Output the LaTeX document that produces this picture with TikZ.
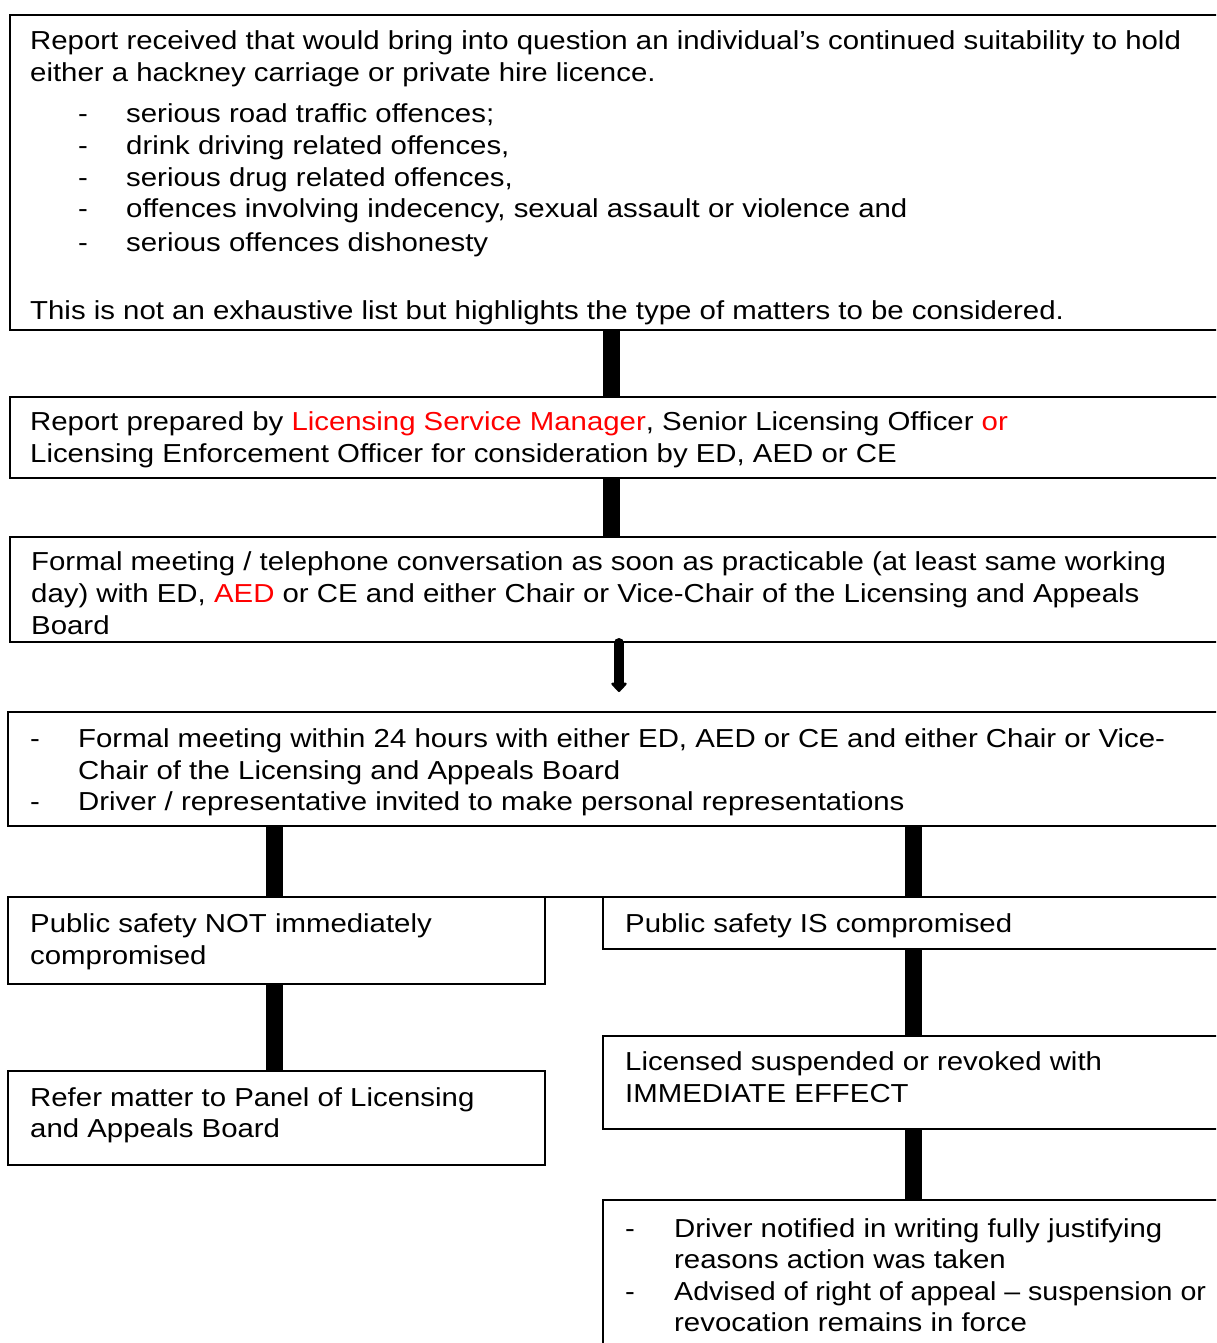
\documentclass[tikz,border=0pt]{standalone}
\usepackage{fontspec}
\setmainfont{Liberation Sans}[FakeStretch=1.13]
\usetikzlibrary{arrows.meta}
\definecolor{txtred}{RGB}{255,0,0}
\tikzset{
  box/.style={draw=black, line width=2.2pt, anchor=north west, inner sep=0pt, outer sep=0pt, fill=white},
  txt/.style={anchor=base west, inner sep=0pt, font=\fontsize{26}{32}\selectfont, text=black},
  bar/.style={line width=17pt, line cap=butt, draw=black},
  joinline/.style={line width=2.2pt, draw=black},
  downarrow/.style={line width=10pt, line cap=round, draw=black,
     -{Triangle[width=18pt,length=10pt,round]}}
}
\begin{document}
\begin{tikzpicture}[x=1pt,y=-1pt]
\useasboundingbox (0,0) rectangle (1216,1343);
\clip (0,0) rectangle (1216,1343);
% boxes
\node[box, minimum width=1240pt, minimum height=315pt] (b1) at (10,15) {};
\node[box, minimum width=1240pt, minimum height=81pt] (b2) at (10,397) {};
\node[box, minimum width=1240pt, minimum height=105pt] (b3) at (10,537) {};
\node[box, minimum width=1240pt, minimum height=114pt] (b4) at (8,712) {};
\node[box, minimum width=537pt, minimum height=87pt] (b5l) at (8,897) {};
\node[box, minimum width=640pt, minimum height=52pt] (b5r) at (603,897) {};
\node[box, minimum width=537pt, minimum height=94pt] (b6l) at (8,1071) {};
\node[box, minimum width=640pt, minimum height=93pt] (b6r) at (603,1036) {};
\node[box, minimum width=640pt, minimum height=200pt] (b7) at (603,1200) {};
% bar x positions
\coordinate (xmid) at (611.5,0);
\coordinate (xarr) at (619,0);
\coordinate (xleft) at (274,0);
\coordinate (xright) at (913,0);
\coordinate (aend) at (619,692);
% connectors
\draw[bar] (b1.south -| xmid) -- (b2.north -| xmid);
\draw[bar] (b2.south -| xmid) -- (b3.north -| xmid);
\draw[downarrow] ([yshift=-1pt]b3.south -| xarr) -- (aend);
\draw[bar] (b4.south -| xleft) -- (b5l.north -| xleft);
\draw[bar] (b4.south -| xright) -- (b5r.north -| xright);
\draw[joinline] (b5l.north east) -- (b5r.north west);
\draw[bar] (b5l.south -| xleft) -- (b6l.north -| xleft);
\draw[bar] (b5r.south -| xright) -- (b6r.north -| xright);
\draw[bar] (b6r.south -| xright) -- (b7.north -| xright);
% box 1 text
\node[txt] (t1a) at (30,50) {Report received that would bring into question an individual’s continued suitability to hold};
\node[txt] (t1b) at (30,82) {either a hackney carriage or private hire licence.};
\node[txt] (d1) at (78,123) {-};
\node[txt] (t1c) at (126,123) {serious road traffic offences;};
\node[txt] (d2) at (78,155) {-};
\node[txt] (t1d) at (126,155) {drink driving related offences,};
\node[txt] (d3) at (78,187) {-};
\node[txt] (t1e) at (126,187) {serious drug related offences,};
\node[txt] (d4) at (78,218) {-};
\node[txt] (t1f) at (126,218) {offences involving indecency, sexual assault or violence and};
\node[txt] (d5) at (78,251) {-};
\node[txt] (t1g) at (126,251) {serious offences dishonesty};
\node[txt] (t1h) at (30,319) {This is not an exhaustive list but highlights the type of matters to be considered.};
% box 2 text
\node[txt] (t2a) at (30,430) {Report prepared by \textcolor{txtred}{Licensing Service Manager}, Senior Licensing Officer \textcolor{txtred}{or}};
\node[txt] (t2b) at (30,462) {Licensing Enforcement Officer for consideration by ED, AED or CE};
% box 3 text
\node[txt] (t3a) at (31,570) {Formal meeting / telephone conversation as soon as practicable (at least same working};
\node[txt] (t3b) at (31,602) {day) with ED, \textcolor{txtred}{AED} or CE and either Chair or Vice-Chair of the Licensing and Appeals};
\node[txt] (t3c) at (31,634) {Board};
% box 4 text
\node[txt] (d6) at (30,747) {-};
\node[txt] (t4a) at (78,747) {Formal meeting within 24 hours with either ED, AED or CE and either Chair or Vice-};
\node[txt] (t4b) at (78,779) {Chair of the Licensing and Appeals Board};
\node[txt] (d7) at (30,810) {-};
\node[txt] (t4c) at (78,810) {Driver / representative invited to make personal representations};
% box 5 text
\node[txt] (t5a) at (30,932) {Public safety NOT immediately};
\node[txt] (t5b) at (30,964) {compromised};
\node[txt] (t5c) at (625,932) {Public safety IS compromised};
% box 6 text
\node[txt] (t6a) at (30,1106) {Refer matter to Panel of Licensing};
\node[txt] (t6b) at (30,1137) {and Appeals Board};
\node[txt] (t6c) at (625,1070) {Licensed suspended or revoked with};
\node[txt] (t6d) at (625,1102) {IMMEDIATE EFFECT};
% box 7 text
\node[txt] (d8) at (625,1237) {-};
\node[txt] (t7a) at (674,1237) {Driver notified in writing fully justifying};
\node[txt] (t7b) at (674,1268) {reasons action was taken};
\node[txt] (d9) at (625,1300) {-};
\node[txt] (t7c) at (674,1300) {\scalebox{0.972}[1]{Advised of right of appeal – suspension or}};
\node[txt] (t7d) at (674,1331) {revocation remains in force};
\end{tikzpicture}
\end{document}
